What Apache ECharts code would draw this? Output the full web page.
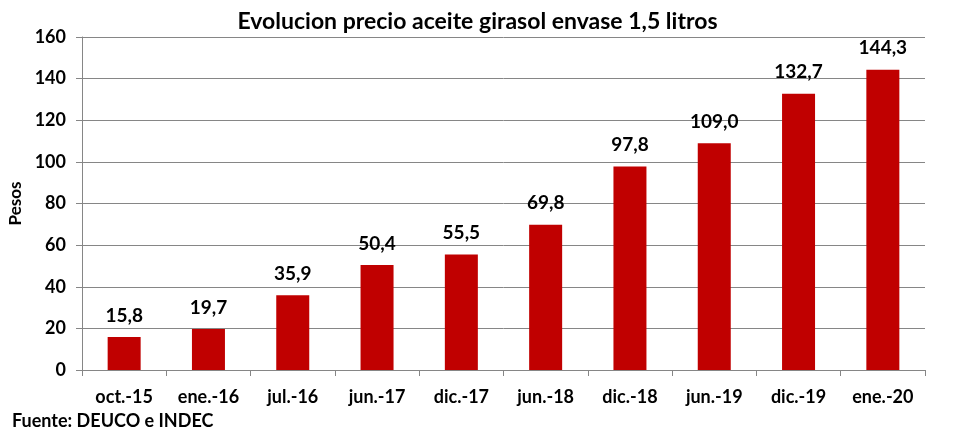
<!DOCTYPE html>
<html>
<head>
<meta charset="utf-8">
<script src="https://cdn.jsdelivr.net/npm/echarts@6/dist/echarts.min.js"></script>
<style>
  html, body { margin: 0; padding: 0; background: #fff; }
  #main { width: 955px; height: 435px; }
</style>
</head>
<body>
<div id="main"></div>
<script>
var categories = ['oct.-15', 'ene.-16', 'jul.-16', 'jun.-17', 'dic.-17', 'jun.-18', 'dic.-18', 'jun.-19', 'dic.-19', 'ene.-20'];
var precios = [15.8, 19.7, 35.9, 50.4, 55.5, 69.8, 97.8, 109.0, 132.7, 144.3];

var myChart = echarts.init(document.getElementById('main'));
var font = 'Lato, "Open Sans", sans-serif';

let option = {
    backgroundColor: '#ffffff',
    animation: false,
    textStyle: { fontFamily: font },
    title: {
        text: 'Evolucion precio aceite girasol envase 1,5 litros',
        left: 'center',
        top: 5,
        textStyle: { fontFamily: font, fontSize: 23, fontWeight: 'bold', color: '#000' }
    },
    graphic: [{
        type: 'text',
        left: 12,
        top: 412,
        style: { text: 'Fuente: DEUCO e INDEC', font: 'bold 18px ' + font, fill: '#000' }
    }],
    grid: { left: 82, right: 30, top: 37, bottom: 65, outerBoundsMode: 'none' },
    xAxis: {
        type: 'category',
        data: categories,
        axisLine: { lineStyle: { color: '#868686', width: 1 } },
        axisTick: { show: true, length: 6, lineStyle: { color: '#868686' } },
        axisLabel: { color: '#000', fontSize: 18, fontWeight: 'bold', margin: 18, fontFamily: font }
    },
    yAxis: {
        type: 'value',
        min: 0,
        max: 160,
        interval: 20,
        name: 'Pesos',
        nameLocation: 'middle',
        nameGap: 58,
        nameRotate: 90,
        nameTextStyle: { color: '#000', fontSize: 17, fontWeight: 'bold', fontFamily: font },
        axisLine: { show: true, lineStyle: { color: '#868686', width: 1 } },
        axisTick: { show: true, length: 6, lineStyle: { color: '#868686' } },
        axisLabel: { color: '#000', fontSize: 18, fontWeight: 'bold', margin: 16, fontFamily: font },
        splitLine: { lineStyle: { color: '#868686', width: 1 } }
    },
    series: [{
        type: 'bar',
        data: precios,
        barWidth: 33,
        itemStyle: { color: '#C00000' },
        label: {
            show: true,
            position: 'top',
            distance: 12,
            color: '#000',
            fontSize: 19,
            fontWeight: 'bold',
            fontFamily: font,
            formatter: function (p) { return p.value.toFixed(1).replace('.', ','); }
        }
    }]
};

myChart.setOption(option);
</script>
</body>
</html>
